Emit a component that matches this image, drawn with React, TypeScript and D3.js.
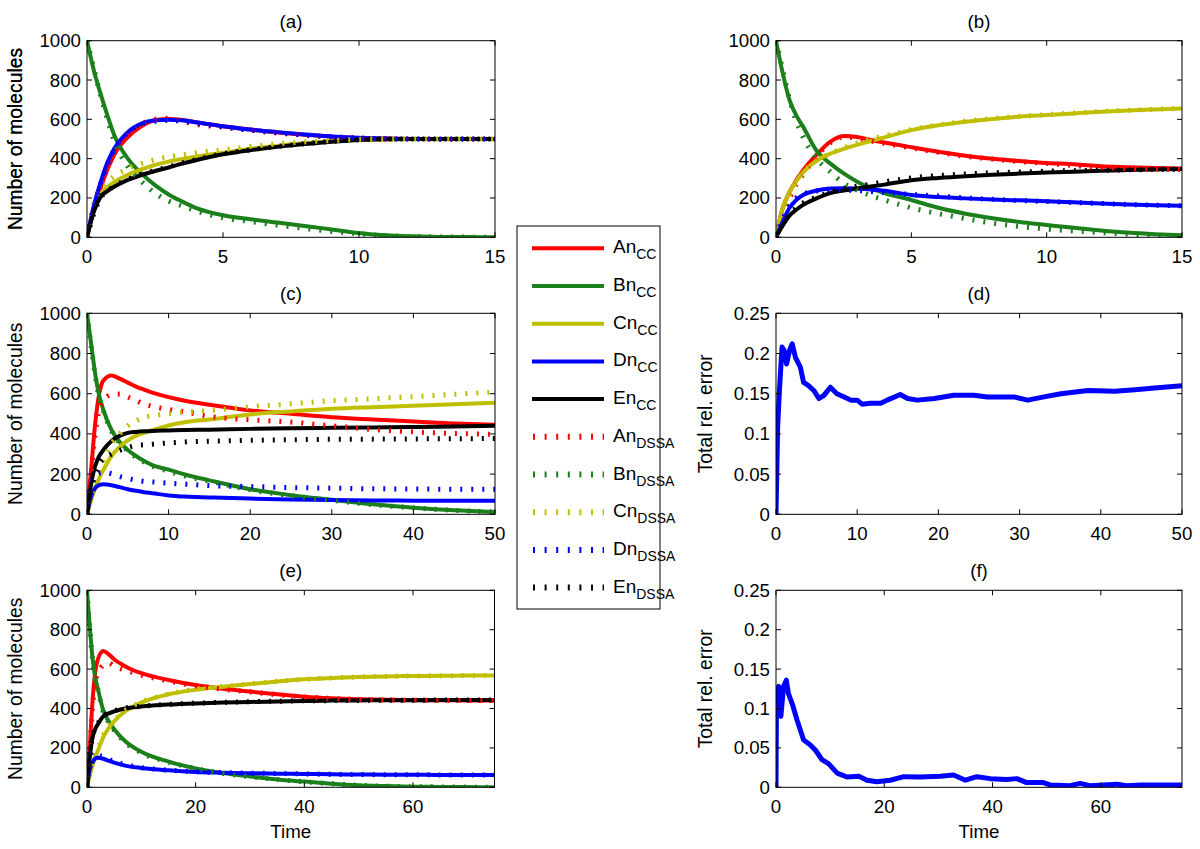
import React from "react";
import * as d3 from "d3";

// ---------- DATA ----------
const tAB = [0, 0.25, 0.5, 0.75, 1, 1.5, 2, 2.5, 3, 3.5, 4, 5, 6, 7, 8, 9, 10, 11, 12, 13, 14, 15];
// panel (a)
const aAcc = [0, 140, 250, 345, 420, 510, 565, 595, 602, 597, 585, 565, 548, 533, 522, 512, 505, 502, 500, 500, 500, 500];
const aBcc = [1000, 850, 730, 620, 520, 400, 325, 265, 218, 182, 150, 112, 92, 75, 58, 40, 22, 10, 5, 2, 1, 0];
const aCcc = [0, 150, 220, 255, 280, 318, 345, 368, 385, 398, 410, 430, 450, 465, 478, 488, 495, 499, 500, 500, 500, 500];
const aDcc = [0, 160, 280, 380, 450, 535, 578, 595, 598, 595, 585, 565, 548, 535, 523, 513, 506, 502, 500, 500, 500, 500];
const aEcc = [0, 130, 205, 235, 257, 292, 317, 337, 355, 375, 392, 422, 443, 460, 474, 486, 495, 499, 500, 500, 500, 500];
const aAds = [0, 150, 260, 350, 430, 520, 575, 600, 605, 590, 575, 560, 545, 530, 520, 510, 505, 500, 500, 498, 500, 500];
const aBds = [1000, 860, 720, 600, 490, 360, 285, 225, 185, 160, 135, 100, 80, 62, 45, 30, 18, 8, 4, 2, 1, 0];
const aCds = [0, 170, 245, 285, 310, 350, 375, 395, 410, 420, 430, 445, 462, 475, 485, 492, 498, 500, 500, 500, 500, 500];
const aDds = [0, 150, 270, 370, 445, 530, 575, 590, 595, 590, 580, 562, 545, 532, 520, 512, 505, 501, 500, 500, 500, 500];
const aEds = [0, 120, 200, 235, 260, 295, 320, 340, 358, 378, 395, 425, 445, 462, 476, 488, 496, 500, 500, 500, 500, 500];
// panel (b)
const bAcc = [0, 150, 230, 290, 340, 420, 485, 515, 510, 495, 482, 458, 435, 415, 400, 388, 378, 372, 362, 356, 352, 350];
const bBcc = [1000, 834, 698, 620, 563, 440, 376, 325, 283, 250, 225, 190, 150, 120, 97, 78, 63, 48, 35, 24, 16, 10];
const bCcc = [0, 150, 230, 285, 330, 390, 425, 450, 470, 490, 508, 545, 570, 588, 602, 614, 622, 630, 638, 645, 650, 655];
const bDcc = [0, 80, 150, 190, 215, 238, 248, 250, 248, 243, 237, 215, 205, 198, 192, 188, 184, 178, 172, 167, 163, 160];
const bEcc = [0, 60, 110, 140, 165, 198, 225, 238, 248, 258, 268, 290, 302, 311, 318, 324, 329, 334, 338, 342, 345, 347];
const bAds = [0, 120, 200, 270, 320, 410, 480, 510, 505, 490, 478, 455, 432, 412, 398, 385, 376, 365, 356, 350, 347, 345];
const bBds = [1000, 850, 700, 590, 510, 400, 334, 275, 240, 212, 190, 150, 120, 95, 72, 55, 42, 32, 24, 16, 10, 5];
const bCds = [0, 140, 220, 280, 330, 390, 425, 455, 480, 500, 515, 548, 572, 590, 604, 615, 624, 632, 640, 646, 651, 656];
const bDds = [0, 90, 160, 200, 220, 235, 240, 240, 238, 233, 228, 218, 210, 200, 193, 187, 182, 177, 172, 167, 163, 160];
const bEds = [0, 70, 120, 150, 175, 205, 228, 248, 260, 270, 282, 302, 314, 322, 328, 332, 336, 339, 341, 343, 345, 347];
// panel (c)
const tC = [0, 0.5, 1, 1.5, 2, 3, 4, 5, 6, 7, 8, 10, 12, 15, 20, 25, 30, 35, 40, 45, 50];
const cAcc = [0, 220, 450, 600, 665, 690, 675, 655, 635, 620, 605, 583, 565, 545, 517, 500, 483, 472, 462, 452, 445];
const cBcc = [1000, 850, 700, 590, 520, 420, 360, 320, 290, 265, 245, 222, 198, 169, 125, 95, 72, 50, 33, 20, 12];
const cCcc = [0, 70, 130, 180, 220, 290, 335, 368, 390, 405, 418, 442, 458, 472, 497, 512, 525, 533, 540, 548, 555];
const cDcc = [0, 90, 130, 145, 149, 145, 135, 125, 117, 110, 105, 94, 88, 84, 78, 74, 71, 69, 68, 67, 67];
const cEcc = [0, 150, 240, 290, 320, 365, 390, 405, 410, 413, 415, 417, 419, 421, 425, 428, 430, 432, 434, 437, 440];
const cAds = [0, 200, 400, 520, 565, 595, 598, 583, 566, 548, 537, 522, 510, 487, 470, 459, 440, 422, 410, 402, 398];
const cBds = [1000, 840, 690, 580, 515, 415, 355, 315, 283, 260, 240, 214, 190, 165, 122, 92, 70, 48, 32, 20, 12];
const cCds = [0, 90, 160, 220, 270, 350, 400, 440, 465, 483, 490, 500, 508, 516, 535, 550, 565, 575, 585, 597, 608];
const cDds = [0, 150, 190, 205, 208, 202, 188, 178, 170, 164, 161, 155, 150, 143, 138, 133, 130, 127, 126, 125, 125];
const cEds = [0, 120, 200, 250, 275, 300, 318, 332, 342, 346, 349, 355, 360, 364, 368, 371, 373, 374, 375, 376, 377];
// panel (e)
const tE = [0, 0.5, 1, 1.5, 2, 3, 4, 5, 7, 10, 15, 20, 25, 30, 35, 40, 45, 50, 55, 60, 65, 70, 75];
const eAcc = [0, 200, 430, 580, 650, 692, 675, 650, 615, 579, 545, 519, 500, 486, 472, 460, 452, 447, 444, 443, 442, 441, 440];
const eBcc = [1000, 820, 660, 560, 500, 390, 335, 295, 235, 180, 130, 96, 72, 55, 40, 29, 18, 10, 6, 3, 2, 1, 0];
const eCcc = [0, 60, 110, 150, 185, 255, 300, 335, 385, 430, 472, 495, 510, 524, 537, 548, 555, 560, 563, 565, 566, 567, 567];
const eDcc = [0, 90, 125, 145, 150, 145, 135, 125, 110, 98, 86, 78, 74, 71, 69, 68, 66, 65, 64, 64, 63, 63, 63];
const eEcc = [0, 150, 250, 295, 320, 360, 375, 385, 400, 410, 420, 426, 430, 433, 436, 438, 440, 441, 442, 442, 443, 443, 443];
const eAds = [0, 180, 400, 530, 575, 620, 630, 615, 595, 570, 540, 515, 498, 485, 470, 459, 451, 446, 443, 442, 441, 441, 440];
const eBds = [1000, 810, 650, 550, 495, 380, 330, 290, 228, 175, 128, 95, 70, 54, 40, 28, 18, 10, 6, 3, 2, 1, 0];
const eCds = [0, 70, 130, 170, 200, 265, 310, 340, 390, 432, 474, 497, 512, 525, 538, 548, 555, 560, 563, 565, 566, 567, 567];
const eDds = [0, 120, 175, 180, 165, 155, 142, 130, 115, 100, 87, 79, 75, 72, 70, 68, 66, 65, 64, 64, 63, 63, 63];
const eEds = [0, 160, 255, 300, 325, 362, 378, 388, 402, 411, 421, 427, 431, 434, 437, 439, 440, 441, 442, 442, 443, 443, 443];
// panel (d) total relative error
const tD = [0, 0.2, 0.4, 0.74, 1.0, 1.3, 1.7, 2.0, 2.4, 3.0, 3.4, 4.0, 4.65, 5.3, 5.9, 6.7, 7.5, 8.4, 9.2, 10.0, 10.6, 11.6, 12.9, 13.7, 15.3, 16.2, 17.4, 19.5, 21.9, 24.4, 26.0, 29.3, 31.0, 33.0, 35.1, 38.4, 41.7, 44.2, 46.6, 50];
const errD = [0, 0.108, 0.15, 0.208, 0.204, 0.187, 0.205, 0.212, 0.195, 0.183, 0.164, 0.16, 0.154, 0.144, 0.148, 0.158, 0.15, 0.146, 0.142, 0.142, 0.137, 0.138, 0.138, 0.142, 0.149, 0.144, 0.142, 0.144, 0.148, 0.148, 0.146, 0.146, 0.142, 0.146, 0.15, 0.154, 0.153, 0.155, 0.157, 0.16];
// panel (f)
const tF = [0, 0.1, 0.5, 0.9, 1.4, 1.9, 2.3, 3.0, 3.9, 5.1, 6.3, 7.3, 8.5, 9.7, 11.3, 13.1, 15.3, 16.8, 18.6, 21.1, 23.6, 26.6, 30.3, 32.8, 35.0, 37.1, 39.6, 42.6, 44.5, 46.3, 49.4, 50.6, 54.3, 56.2, 58.0, 63.0, 64.8, 67.3, 75];
const errF = [0, 0.123, 0.128, 0.09, 0.128, 0.136, 0.119, 0.106, 0.085, 0.06, 0.054, 0.047, 0.035, 0.03, 0.018, 0.013, 0.014, 0.009, 0.007, 0.009, 0.0135, 0.013, 0.014, 0.0156, 0.009, 0.0135, 0.011, 0.01, 0.011, 0.006, 0.006, 0.003, 0.002, 0.005, 0.002, 0.004, 0.002, 0.003, 0.003];

const speciesNames = ["An", "Bn", "Cn", "Dn", "En"];
const speciesColors = ["#ff0000", "#1b801b", "#bfbf00", "#0000ff", "#000000"];
const molTicks = [0, 200, 400, 600, 800, 1000];
const errTicks = [0, 0.05, 0.1, 0.15, 0.2, 0.25];
const errTickLabels = ["0", "0.05", "0.1", "0.15", "0.2", "0.25"];

// ---------- STYLE ----------
const FONT = "'Liberation Sans', Arial, Helvetica, sans-serif";
const FS = 18.7;
const FSY = 19.3;
const DOT = "2 9";

type Box = { x0: number; x1: number; y0: number; y1: number };

function Frame({ box, xs, ys, xTicks, yTicks, yLabels, title, yTitle, xTitle, id, children }: any) {
  const tl = 5;
  return (
    <g>
      <defs>
        <clipPath id={id}>
          <rect x={box.x0} y={box.y0 - 2} width={box.x1 - box.x0} height={box.y1 - box.y0 + 2} />
        </clipPath>
      </defs>
      <g clipPath={`url(#${id})`}>{children}</g>
      <rect x={box.x0} y={box.y0} width={box.x1 - box.x0} height={box.y1 - box.y0} fill="none" stroke="#000" strokeWidth={1} />
      {xTicks.map((t: number) => (
        <g key={"x" + t}>
          <line x1={xs(t)} x2={xs(t)} y1={box.y1} y2={box.y1 - tl} stroke="#000" />
          <line x1={xs(t)} x2={xs(t)} y1={box.y0} y2={box.y0 + tl} stroke="#000" />
          <text x={xs(t)} y={box.y1 + 26} textAnchor="middle" fontSize={FS} fontFamily={FONT}>{t}</text>
        </g>
      ))}
      {yTicks.map((t: number, i: number) => (
        <g key={"y" + t}>
          <line x1={box.x0} x2={box.x0 + tl} y1={ys(t)} y2={ys(t)} stroke="#000" />
          <line x1={box.x1} x2={box.x1 - tl} y1={ys(t)} y2={ys(t)} stroke="#000" />
          <text x={box.x0 - 6} y={ys(t) + 6.5} textAnchor="end" fontSize={FS} fontFamily={FONT}>{yLabels[i]}</text>
        </g>
      ))}
      <text x={(box.x0 + box.x1) / 2} y={box.y0 - 13} textAnchor="middle" fontSize={FS} fontFamily={FONT}>{title}</text>
      <text transform={`translate(${yTitle.x},${(box.y0 + box.y1) / 2}) rotate(-90)`} textAnchor="middle" fontSize={FSY} fontFamily={FONT}>{yTitle.text}</text>
      {xTitle && (
        <text x={(box.x0 + box.x1) / 2} y={box.y1 + 51} textAnchor="middle" fontSize={FS} fontFamily={FONT}>{xTitle}</text>
      )}
    </g>
  );
}

function MolPanel({ box, t, cc, ds, xMax, xTicks, title, id, xTitle }: any) {
  const xs = d3.scaleLinear().domain([0, xMax]).range([box.x0, box.x1]);
  const ys = d3.scaleLinear().domain([0, 1000]).range([box.y1, box.y0]);
  const line = d3.line<number>().x((_, i) => xs(t[i])).y((v) => ys(v)).curve(d3.curveMonotoneX);
  return (
    <Frame box={box} xs={xs} ys={ys} xTicks={xTicks} yTicks={molTicks} yLabels={molTicks.map(String)}
      title={title} id={id} xTitle={xTitle} yTitle={{ x: 22, text: "Number of molecules" }}>
      {cc.map((s: number[], i: number) => (
        <path key={"cc" + i} d={line(s) || ""} fill="none" stroke={speciesColors[i]} strokeWidth={4} />
      ))}
      {ds.map((s: number[], i: number) => (
        <path key={"ds" + i} d={line(s) || ""} fill="none" stroke={speciesColors[i]} strokeWidth={5} strokeDasharray={DOT} />
      ))}
    </Frame>
  );
}

function ErrPanel({ box, t, v, xMax, xTicks, title, id, xTitle }: any) {
  const xs = d3.scaleLinear().domain([0, xMax]).range([box.x0, box.x1]);
  const ys = d3.scaleLinear().domain([0, 0.25]).range([box.y1, box.y0]);
  const line = d3.line<number>().x((_, i) => xs(t[i])).y((d) => ys(d));
  return (
    <Frame box={box} xs={xs} ys={ys} xTicks={xTicks} yTicks={errTicks} yLabels={errTickLabels}
      title={title} id={id} xTitle={xTitle} yTitle={{ x: 712, text: "Total rel. error" }}>
      <path d={line(v) || ""} fill="none" stroke="#0000ff" strokeWidth={5} strokeLinejoin="round" />
    </Frame>
  );
}

function Legend() {
  const x0 = 517, y0 = 226, w = 143, h = 383;
  const step = 37.7;
  const entries = [
    ...speciesNames.map((n, i) => ({ n, sub: "CC", c: speciesColors[i], dotted: false })),
    ...speciesNames.map((n, i) => ({ n, sub: "DSSA", c: speciesColors[i], dotted: true })),
  ];
  return (
    <g>
      <rect x={x0} y={y0} width={w} height={h} fill="#fff" stroke="#000" strokeWidth={1} />
      {entries.map((e, i) => {
        const y = 248.3 + i * step;
        return (
          <g key={i}>
            {e.dotted ? (
              <line x1={533} x2={604} y1={y} y2={y} stroke={e.c} strokeWidth={6} strokeDasharray="2 9.6" />
            ) : (
              <line x1={532} x2={604} y1={y} y2={y} stroke={e.c} strokeWidth={4} />
            )}
            <text x={613} y={y + 5} fontSize={19} fontFamily={FONT}>
              {e.n}
              <tspan dy={6} fontSize={14}>{e.sub}</tspan>
            </text>
          </g>
        );
      })}
    </g>
  );
}

export default function App() {
  const boxA: Box = { x0: 87, x1: 495, y0: 40.7, y1: 237.3 };
  const boxB: Box = { x0: 776, x1: 1182, y0: 40.7, y1: 237.3 };
  const boxC: Box = { x0: 87, x1: 495, y0: 313.3, y1: 514.3 };
  const boxD: Box = { x0: 776, x1: 1182, y0: 313.3, y1: 514.3 };
  const boxE: Box = { x0: 87, x1: 494.5, y0: 590.3, y1: 787.3 };
  const boxF: Box = { x0: 776, x1: 1182, y0: 590.3, y1: 787.3 };
  return (
    <svg width={1200} height={849} style={{ position: "absolute", left: 0, top: 0, background: "#fff" }}>
      <rect x={0} y={0} width={1200} height={849} fill="#fff" />
      <MolPanel box={boxA} t={tAB} cc={[aAcc, aBcc, aCcc, aDcc, aEcc]} ds={[aAds, aBds, aCds, aDds, aEds]}
        xMax={15} xTicks={[0, 5, 10, 15]} title="(a)" id="clipA" />
      <MolPanel box={boxB} t={tAB} cc={[bAcc, bBcc, bCcc, bDcc, bEcc]} ds={[bAds, bBds, bCds, bDds, bEds]}
        xMax={15} xTicks={[0, 5, 10, 15]} title="(b)" id="clipB" />
      <MolPanel box={boxC} t={tC} cc={[cAcc, cBcc, cCcc, cDcc, cEcc]} ds={[cAds, cBds, cCds, cDds, cEds]}
        xMax={50} xTicks={[0, 10, 20, 30, 40, 50]} title="(c)" id="clipC" />
      <ErrPanel box={boxD} t={tD} v={errD} xMax={50} xTicks={[0, 10, 20, 30, 40, 50]} title="(d)" id="clipD" />
      <MolPanel box={boxE} t={tE} cc={[eAcc, eBcc, eCcc, eDcc, eEcc]} ds={[eAds, eBds, eCds, eDds, eEds]}
        xMax={75} xTicks={[0, 20, 40, 60]} title="(e)" id="clipE" xTitle="Time" />
      <ErrPanel box={boxF} t={tF} v={errF} xMax={75} xTicks={[0, 20, 40, 60]} title="(f)" id="clipF" xTitle="Time" />
      <Legend />
    </svg>
  );
}
